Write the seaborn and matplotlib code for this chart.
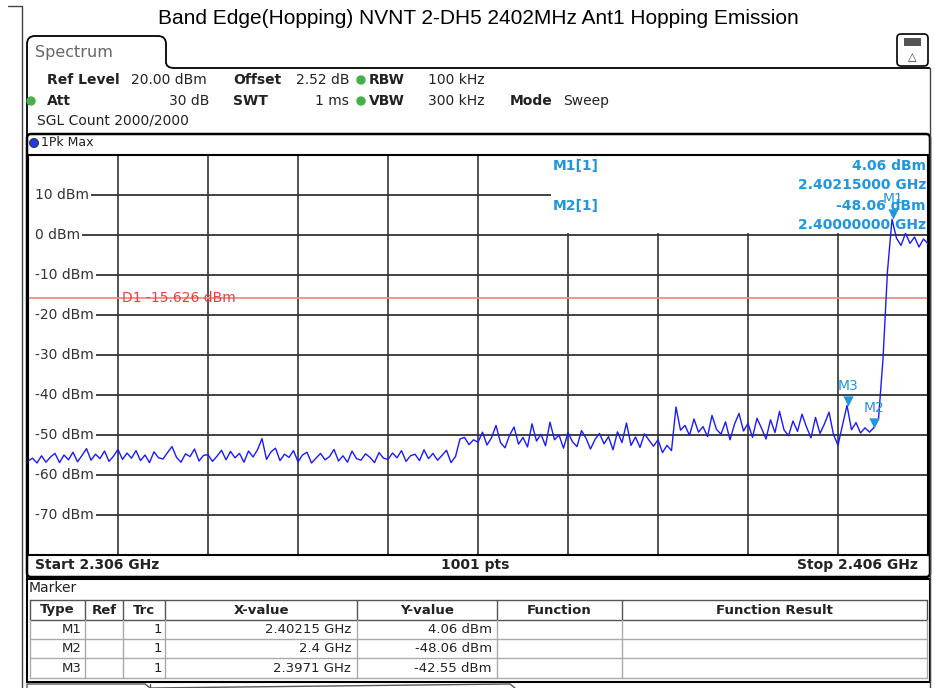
import numpy as np
import pandas as pd
import seaborn as sns
import matplotlib.pyplot as plt
from matplotlib.patches import Rectangle, FancyBboxPatch, Circle, PathPatch
from matplotlib.path import Path

# ---------------------------------------------------------
# 데이터 (화면에서 읽은 값)
# ---------------------------------------------------------
start_ghz = 2.306
stop_ghz = 2.406
ref_level = 20.0
sweep_points = 1001

# 0.5 MHz 간격으로 읽은 트레이스 (1Pk Max)
level_dbm = [
    -56.5, -55.8, -57.0, -55.2, -56.8, -55.5, -54.6, -56.9, -55.0, -56.2,
    -54.3, -56.7, -55.1, -53.4, -56.3, -54.8, -55.9, -54.0, -56.6, -55.3,
    -53.6, -56.1, -54.5, -55.8, -53.9, -56.4, -55.0, -56.9, -54.2, -55.7,
    -56.0, -54.4, -52.9, -55.6, -56.8, -54.7, -55.4, -53.5, -56.5, -55.1,
    -54.9, -56.6, -55.3, -53.8, -56.2, -54.1, -55.7, -54.6, -56.8, -54.0,
    -55.5, -53.7, -50.9, -56.1, -54.2, -53.3, -56.4, -54.8, -55.6, -53.9,
    -56.7, -55.0, -54.3, -57.0, -55.8, -54.6, -56.2, -55.4, -53.6, -56.5,
    -55.2, -56.8, -54.0, -55.9, -56.3, -54.7, -55.6, -56.9, -54.4, -55.8,
    -56.1, -54.5, -55.7, -53.9, -56.6, -55.2, -54.8, -56.4, -53.7, -55.9,
    -54.6, -56.3, -55.1, -53.8, -56.9, -55.4, -51.0, -50.6, -52.4, -51.2,
    -51.8, -49.3, -52.5, -50.7, -47.6, -51.9, -53.2, -50.1, -48.0, -52.3,
    -50.6, -53.0, -47.2, -51.5, -49.8, -52.7, -46.8, -51.2, -50.0, -53.3,
    -49.4, -51.7, -52.9, -48.9, -50.8, -53.5, -51.1, -49.6, -52.2, -50.4,
    -53.7, -49.2, -51.9, -47.0, -52.6, -50.5, -53.1, -49.7, -51.3, -52.8,
    -51.2, -54.4, -52.6, -53.9, -43.0, -48.8, -47.6, -50.1, -46.0, -49.3,
    -47.9, -50.4, -45.1, -48.6, -49.8, -46.7, -51.2, -47.3, -44.6, -49.0,
    -47.1, -50.6, -45.8, -48.3, -51.0, -46.2, -49.4, -44.1, -48.7, -50.2,
    -46.5, -49.1, -44.8, -48.0, -50.7, -45.6, -49.6, -47.2, -44.3, -49.9,
    -52.6, -47.5, -42.6, -48.7, -46.9, -49.5, -48.2, -49.3, -48.1, -46.0,
    -31.0, -9.0, 3.9, -0.8, -2.6, 0.4, -2.1, -0.5, -3.0, -1.0,
    -2.2,
]
freq_ghz = np.linspace(start_ghz, stop_ghz, len(level_dbm))
trace = pd.DataFrame({'freq_ghz': freq_ghz, 'level_dbm': level_dbm})

marker_names = ['M1', 'M2', 'M3']
marker_freq = [2.40215, 2.4, 2.3971]
marker_level = [4.06, -48.06, -42.55]
marker_xtext = ['2.40215 GHz', '2.4 GHz', '2.3971 GHz']
marker_ytext = ['4.06 dBm', '-48.06 dBm', '-42.55 dBm']

d1_level = -15.626
y_ticks = [10, 0, -10, -20, -30, -40, -50, -60, -70]

title = 'Band Edge(Hopping) NVNT 2-DH5 2402MHz Ant1 Hopping Emission'

# ---------------------------------------------------------
# 스타일
# ---------------------------------------------------------
sns.set_theme(style='white')
plt.rcParams['font.family'] = ['DejaVu Sans']

W, H = 935, 688
fig = plt.figure(figsize=(W / 100, H / 100), dpi=100)
fig.patch.set_facecolor('white')

# 플롯 영역 (픽셀: x 28~928, y 155~555)
ax = fig.add_axes([28 / W, (H - 555) / H, 900 / W, 400 / H])
ax.set_xlim(start_ghz, stop_ghz)
ax.set_ylim(ref_level - 100, ref_level)

def fx(px):
    return start_ghz + (px - 28) / 900 * (stop_ghz - start_ghz)

BLUE_TXT = '#2196dc'
GRID = '#333333'
FS = 10

# 세로 그리드
ax.set_xticks(np.linspace(start_ghz, stop_ghz, 11))
ax.set_xticklabels([])
ax.set_yticks([])
ax.tick_params(length=0)
ax.grid(axis='x', color=GRID, lw=1.2)
ax.set_axisbelow(True)

# y 라벨 + 가로 그리드 (라벨 뒤에서 시작)
labels = []
for v in y_ticks:
    t = ax.text(fx(35), v, f'{v} dBm', fontsize=FS, color='#333333',
                ha='left', va='center', zorder=2)
    labels.append((v, t))
fig.canvas.draw()
for v, t in labels:
    bb = t.get_window_extent()
    x0 = ax.transData.inverted().transform((bb.x1 + 2, 0))[0]
    ax.hlines(v, x0, stop_ghz, color=GRID, lw=1.3, zorder=1)

# 마커 값 표시 영역 (그리드 가림)
ax.add_patch(Rectangle(((551 - 28) / 900, (555 - 233) / 400), 377 / 900, 78 / 400,
                       transform=ax.transAxes, facecolor='white',
                       edgecolor='none', zorder=1.5))

# D1 라인
ax.axhline(d1_level, color='#f28b8b', lw=1.3, zorder=2.5)
ax.text(fx(122), d1_level, f'D1 {d1_level} dBm', color='#e8413c',
        fontsize=FS, ha='left', va='center', zorder=2.6)

# 트레이스
sns.lineplot(data=trace, x='freq_ghz', y='level_dbm', ax=ax, color='#1a1aff',
             lw=1.0, estimator=None, sort=False, zorder=3)
ax.set_xlabel('')
ax.set_ylabel('')

# 마커
ax.scatter(marker_freq, [m + 1.1 for m in marker_level], marker='v', s=55,
           color=BLUE_TXT, zorder=4, linewidths=0)
for name, f, m in zip(marker_names, marker_freq, marker_level):
    ax.annotate(name, (f, m), xytext=(0, 14), textcoords='offset points',
                ha='center', va='center', color=BLUE_TXT, fontsize=FS,
                zorder=4)

for s in ax.spines.values():
    s.set_color('black')
    s.set_linewidth(1.5)

# ---------------------------------------------------------
# 화면 장식 (픽셀 좌표)
# ---------------------------------------------------------
deco = fig.add_axes([0, 0, 1, 1], zorder=5)
deco.set_xlim(0, W)
deco.set_ylim(H, 0)
deco.axis('off')
deco.patch.set_alpha(0)

deco.text(478, 18, title, fontsize=15, family='Liberation Sans',
          ha='center', va='center', color='black')

# 창 테두리
deco.plot([8, 22, 22], [6, 6, H], color='#444444', lw=1)
deco.plot([930, 930], [68, H], color='#444444', lw=1)

# Spectrum 탭
verts = [(27, H - 6), (27, 44), (27, 36), (35, 36), (158, 36), (166, 36),
         (166, 44), (166, 62), (166, 68), (174, 68), (930, 68)]
codes = [Path.MOVETO, Path.LINETO, Path.CURVE3, Path.CURVE3, Path.LINETO,
         Path.CURVE3, Path.CURVE3, Path.LINETO, Path.CURVE3, Path.CURVE3,
         Path.LINETO]
deco.add_patch(PathPatch(Path(verts, codes), fill=False, edgecolor='black', lw=1.3))
deco.text(35, 52, 'Spectrum', fontsize=11.5, color='#666666', va='center')

# 오른쪽 위 아이콘
deco.add_patch(FancyBboxPatch((897, 34), 31, 32, boxstyle='round,pad=0,rounding_size=4',
                              facecolor='white', edgecolor='black', lw=1.2))
deco.add_patch(Rectangle((904, 38), 17, 8, facecolor='#555555', edgecolor='none'))
deco.text(912.5, 57, '\u25b3', fontsize=8, ha='center', va='center', color='#333333')

# 설정 값
def hdr(x, y, s, bold=False, ha='left', size=FS):
    deco.text(x, y, s, fontsize=size, fontweight='bold' if bold else 'normal',
              ha=ha, va='center', color='#222222')

def dot(x, y, c='#47b04b'):
    deco.add_patch(Circle((x, y), 4, color=c))

hdr(47, 80, 'Ref Level', True)
hdr(131, 80, '20.00 dBm')
hdr(233, 80, 'Offset', True)
hdr(349, 80, '2.52 dB', ha='right')
dot(361, 80)
hdr(369, 80, 'RBW', True)
hdr(428, 80, '100 kHz')

dot(31, 101)
hdr(47, 101, 'Att', True)
hdr(209, 101, '30 dB', ha='right')
hdr(233, 101, 'SWT', True)
hdr(349, 101, '1 ms', ha='right')
dot(361, 101)
hdr(369, 101, 'VBW', True)
hdr(428, 101, '300 kHz')
hdr(510, 101, 'Mode', True)
hdr(563, 101, 'Sweep')
hdr(37, 121, 'SGL Count 2000/2000')

# 트레이스 패널
deco.add_patch(FancyBboxPatch((27, 134), 903, 443, boxstyle='round,pad=0,rounding_size=4',
                              fill=False, edgecolor='black', lw=1.8))
deco.add_patch(Circle((34, 143), 4.5, facecolor='#1f3fd8', edgecolor='#222222', lw=0.6))
deco.text(41, 143, '1Pk Max', fontsize=9, va='center', color='#222222')

# 마커 값 표시
deco.text(553, 166, 'M1[1]', fontsize=FS, fontweight='bold', color=BLUE_TXT, va='center')
deco.text(926, 166, marker_ytext[0], fontsize=FS, fontweight='bold', color=BLUE_TXT,
          va='center', ha='right')
deco.text(926, 185, f'{marker_freq[0]:.8f} GHz', fontsize=FS, fontweight='bold',
          color=BLUE_TXT, va='center', ha='right')
deco.text(553, 206, 'M2[1]', fontsize=FS, fontweight='bold', color=BLUE_TXT, va='center')
deco.text(926, 206, marker_ytext[1], fontsize=FS, fontweight='bold', color=BLUE_TXT,
          va='center', ha='right')
deco.text(926, 225, f'{marker_freq[1]:.8f} GHz', fontsize=FS, fontweight='bold',
          color=BLUE_TXT, va='center', ha='right')

# 하단 주파수 표시
hdr(35, 565, f'Start {start_ghz} GHz', True)
hdr(475, 565, f'{sweep_points} pts', True, ha='center')
hdr(918, 565, f'Stop {stop_ghz} GHz', True, ha='right')

# ---------------------------------------------------------
# 마커 테이블
# ---------------------------------------------------------
deco.add_patch(Rectangle((27, 579), 903, 103, fill=False, edgecolor='black', lw=1.5))
hdr(29, 588, 'Marker')

cols = [30, 85, 123, 165, 357, 497, 622, 927]
rows = [600, 620, 639, 658, 678]
col_names = ['Type', 'Ref', 'Trc', 'X-value', 'Y-value', 'Function', 'Function Result']

for y in rows:
    deco.plot([cols[0], cols[-1]], [y, y], color='#555555' if y <= 620 else '#aaaaaa', lw=1)
for x in cols:
    deco.plot([x, x], [rows[0], rows[1]], color='#555555', lw=1)
    deco.plot([x, x], [rows[1], rows[-1]], color='#aaaaaa', lw=1)
for i, name in enumerate(col_names):
    hdr((cols[i] + cols[i + 1]) / 2, 610, name, True, ha='center', size=9.5)

for r, (name, xv, yv) in enumerate(zip(marker_names, marker_xtext, marker_ytext)):
    yc = (rows[r + 1] + rows[r + 2]) / 2
    hdr(cols[1] - 3, yc, name, ha='right', size=9.5)
    hdr(cols[3] - 3, yc, '1', ha='right', size=9.5)
    hdr(cols[4] - 6, yc, xv, ha='right', size=9.5)
    hdr(cols[5] - 5, yc, yv, ha='right', size=9.5)

# 하단 탭 조각
deco.plot([27, 27, 145, 150, 510, 515], [H, 684, 684, H, 684, H], color='#555555', lw=1)
deco.plot([150, 150], [684, H], color='#555555', lw=1)

fig.savefig('out.png', dpi=100)
